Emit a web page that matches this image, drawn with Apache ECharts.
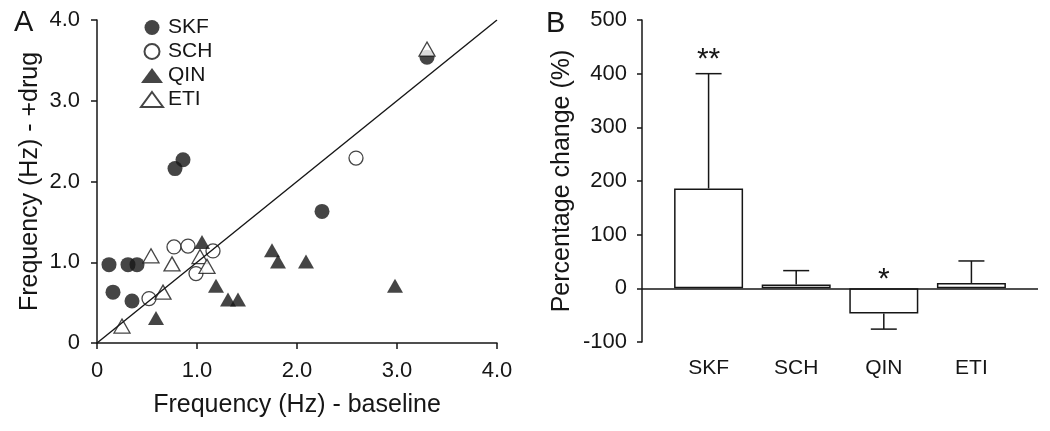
<!DOCTYPE html>
<html><head><meta charset="utf-8">
<script src="https://cdn.jsdelivr.net/npm/echarts@6/dist/echarts.min.js"></script>
<style>html,body{margin:0;padding:0;background:#fff}#c{width:1050px;height:431px}</style>
</head><body><div id="c"></div>
<script>
// Panel A: frequency baseline (x) vs +drug (y), Hz
const skf = [[0.12,0.97],[0.16,0.63],[0.31,0.97],[0.40,0.97],[0.35,0.52],[0.78,2.16],[0.86,2.27],[2.25,1.63],[3.30,3.54]];
const sch = [[0.52,0.55],[0.77,1.19],[0.91,1.20],[0.99,0.86],[1.16,1.14],[2.59,2.29]];
const qin = [[0.59,0.31],[1.05,1.25],[1.19,0.71],[1.31,0.54],[1.41,0.54],[1.75,1.15],[1.81,1.01],[2.09,1.01],[2.98,0.71]];
const eti = [[0.25,0.21],[0.54,1.08],[0.66,0.63],[0.75,0.98],[1.03,1.07],[1.10,0.95],[3.30,3.64]];
const identityLine = [[0,0],[4,4]];
// Panel B: percentage change
const drugs = ['SKF','SCH','QIN','ETI'];
const meanChange = [186, 7, -47, 10];
const errEnd = [400, 33, -76, 51];
const sigMarks = ['**','','*',''];
const sigY = [437, null, 27, null];

const FONT = 'Liberation Sans, Arial, Helvetica, sans-serif';
const INK = '#161616';
const chart = echarts.init(document.getElementById('c'));
const fmtHz = v => v === 0 ? '0' : v.toFixed(1);

chart.setOption({
  backgroundColor:'#fff',
  animation:false,
  textStyle:{fontFamily:FONT, color:INK},
  title:[
    {text:'A', left:14, top:8, padding:0, textStyle:{fontSize:29, fontWeight:'normal', color:INK, fontFamily:FONT}},
    {text:'B', left:546, top:9, padding:0, textStyle:{fontSize:29, fontWeight:'normal', color:INK, fontFamily:FONT}}
  ],
  legend:{
    data:drugs, orient:'vertical', left:140, top:17, itemGap:3,
    itemWidth:22, itemHeight:15, symbolKeepAspect:true, padding:0,
    textStyle:{fontSize:21, color:INK, fontFamily:FONT}
  },
  grid:[
    {left:97, right:553, top:20, bottom:88},
    {left:642, right:12, top:20, bottom:89}
  ],
  xAxis:[
    {gridIndex:0, type:'value', min:0, max:4, interval:1,
     axisLine:{show:true, onZero:false, lineStyle:{color:INK, width:1.5}},
     axisTick:{show:true, length:6, lineStyle:{color:INK, width:1.5}},
     axisLabel:{fontSize:22, color:INK, margin:17, formatter:fmtHz, fontFamily:FONT},
     splitLine:{show:false},
     name:'Frequency (Hz) - baseline', nameLocation:'middle', nameGap:50,
     nameTextStyle:{fontSize:25, color:INK, fontFamily:FONT}},
    {gridIndex:1, type:'value', min:-0.76, max:3.76,
     axisLine:{show:false, onZero:false}, axisTick:{show:false},
     axisLabel:{fontSize:21, color:INK, margin:16, customValues:[0,1,2,3], formatter:v => drugs[Math.round(v)], fontFamily:FONT},
     splitLine:{show:false}}
  ],
  yAxis:[
    {gridIndex:0, type:'value', min:0, max:4, interval:1,
     axisLine:{show:true, onZero:false, lineStyle:{color:INK, width:1.5}},
     axisTick:{show:true, length:6, lineStyle:{color:INK, width:1.5}},
     axisLabel:{fontSize:22, color:INK, margin:17, formatter:fmtHz, fontFamily:FONT},
     splitLine:{show:false},
     name:'Frequency (Hz) - +drug', nameLocation:'middle', nameGap:54,
     nameTextStyle:{fontSize:25, color:INK, fontFamily:FONT}},
    {gridIndex:1, type:'value', min:-100, max:500, interval:100,
     axisLine:{show:true, onZero:false, lineStyle:{color:INK, width:1.5}},
     axisTick:{show:true, length:5, lineStyle:{color:INK, width:1.5}},
     axisLabel:{fontSize:22, color:INK, margin:15, fontFamily:FONT},
     splitLine:{show:false},
     name:'Percentage change (%)', nameLocation:'middle', nameGap:67,
     nameTextStyle:{fontSize:25, color:INK, fontFamily:FONT}}
  ],
  series:[
    {name:'SKF', type:'scatter', xAxisIndex:0, yAxisIndex:0, data:skf, symbol:'circle', symbolSize:15,
     itemStyle:{color:INK}},
    {name:'SCH', type:'scatter', xAxisIndex:0, yAxisIndex:0, data:sch, symbol:'circle', symbolSize:14,
     itemStyle:{color:'#fff', borderColor:INK, borderWidth:1.3}},
    {name:'QIN', type:'scatter', xAxisIndex:0, yAxisIndex:0, data:qin, symbol:'triangle', symbolSize:[16,14],
     itemStyle:{color:INK}},
    {name:'ETI', type:'scatter', xAxisIndex:0, yAxisIndex:0, data:eti, symbol:'triangle', symbolSize:[16,14],
     itemStyle:{color:'#fff', borderColor:INK, borderWidth:1.3}},
    {name:'identity', type:'line', xAxisIndex:0, yAxisIndex:0, data:identityLine, showSymbol:false, z:5,
     lineStyle:{color:INK, width:1.4}},
    {name:'change', type:'bar', xAxisIndex:1, yAxisIndex:1, barWidth:69,
     data:meanChange.map((v,i)=>[i,v]),
     itemStyle:{color:'#fff', borderColor:INK, borderWidth:1.5},
     markLine:{silent:true, symbol:['none','none'], label:{show:false},
       lineStyle:{color:INK, width:1.5, type:'solid'}, data:[{yAxis:0}]}},
    {name:'err', type:'custom', xAxisIndex:1, yAxisIndex:1, z:4,
     data:meanChange.map((v,i)=>[i, v, errEnd[i]]),
     encode:{x:0, y:[1,2]},
     renderItem:function(params, api){
       const i = api.value(0);
       const p0 = api.coord([i, api.value(1)]);
       const p1 = api.coord([i, api.value(2)]);
       const st = {stroke:INK, lineWidth:1.5};
       const ch = [
         {type:'line', shape:{x1:p0[0], y1:p0[1], x2:p1[0], y2:p1[1]}, style:st},
         {type:'line', shape:{x1:p1[0]-13, y1:p1[1], x2:p1[0]+13, y2:p1[1]}, style:st}
       ];
       const k = params.dataIndex;
       if (sigMarks[k]) {
         const ps = api.coord([i, sigY[k]]);
         ch.push({type:'text', style:{text:sigMarks[k], x:ps[0], y:ps[1] + 6, align:'center', verticalAlign:'middle',
           fontSize:30, fill:INK, fontFamily:FONT}});
       }
       return {type:'group', children:ch};
     }}
  ]
});
</script></body></html>
